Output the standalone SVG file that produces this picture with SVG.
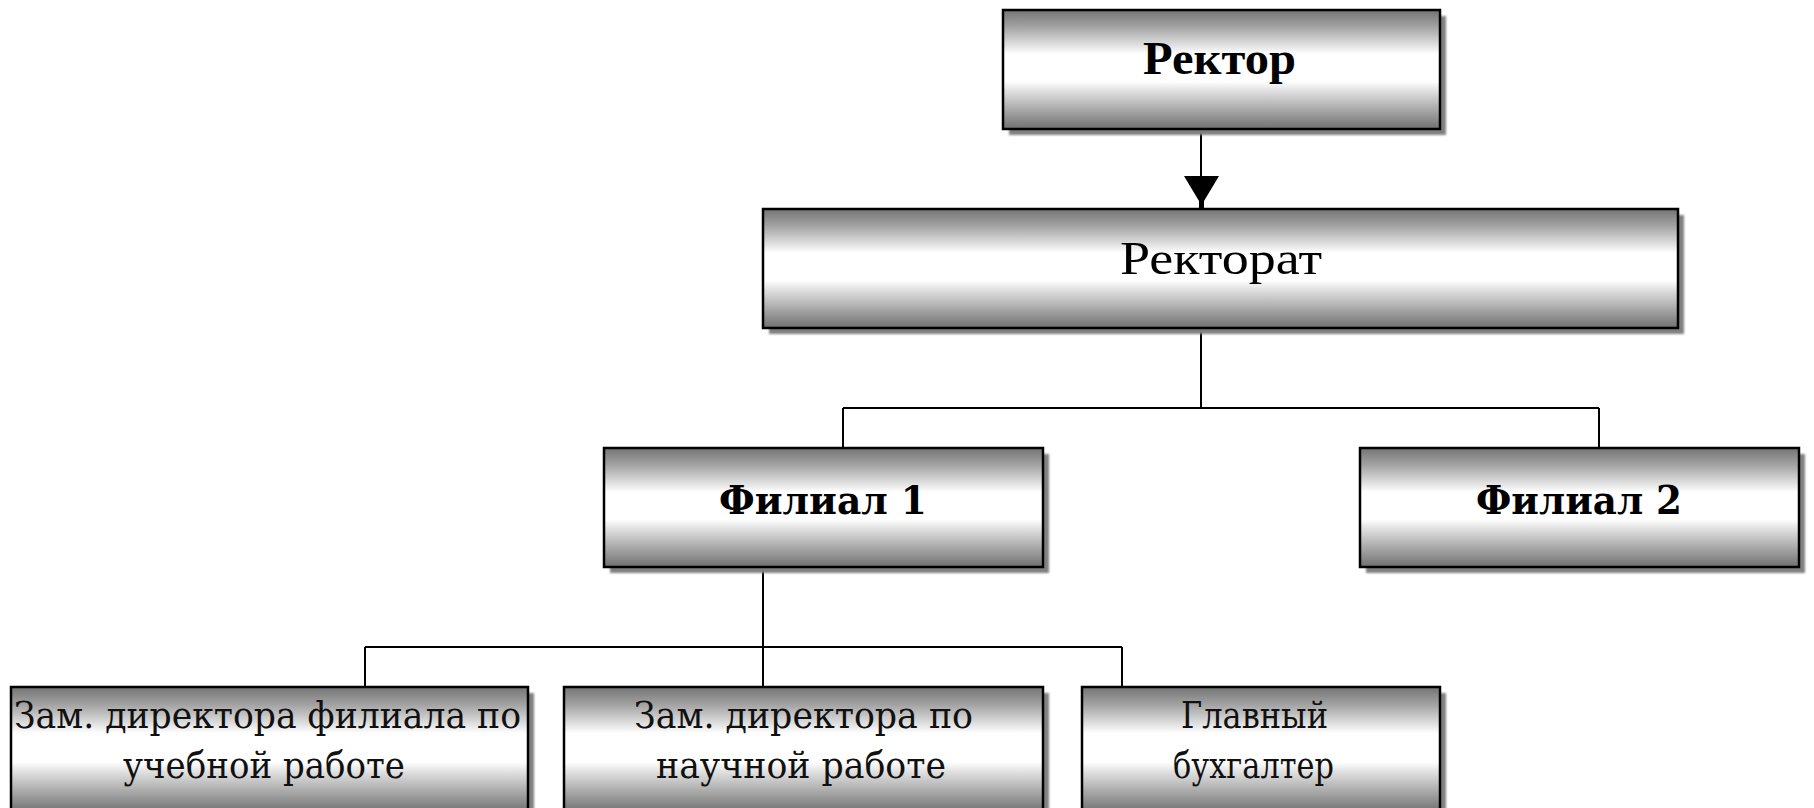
<svg xmlns="http://www.w3.org/2000/svg" width="1814" height="808" viewBox="0 0 1814 808">
  <defs>
    <!-- metallic "cylinder" shading used by every box -->
    <linearGradient id="tube" x1="0" y1="0" x2="0" y2="1">
      <stop offset="0" stop-color="#747474"/>
      <stop offset="0.14" stop-color="#a2a2a2"/>
      <stop offset="0.3" stop-color="#e2e2e2"/>
      <stop offset="0.37" stop-color="#ffffff"/>
      <stop offset="0.6" stop-color="#ffffff"/>
      <stop offset="0.68" stop-color="#e0e0e0"/>
      <stop offset="0.85" stop-color="#a4a4a4"/>
      <stop offset="1" stop-color="#707070"/>
    </linearGradient>
    <filter id="soft" x="-5%" y="-5%" width="110%" height="110%">
      <feGaussianBlur stdDeviation="1"/>
    </filter>
  </defs>
  <style>
    .shadow { fill: #808080; filter: url(#soft); }
    .box { fill: url(#tube); stroke: #000; stroke-width: 2.5; }
    .link { fill: none; stroke: #000; stroke-width: 2; }
    .head { font-family: "Liberation Serif", "Times New Roman", serif; fill: #000; }
    .unit { font-family: "DejaVu Serif", "Liberation Serif", serif; font-weight: bold; font-size: 40px; fill: #000; }
    .post { font-family: "DejaVu Serif", "Liberation Serif", serif; font-size: 37px; fill: #111; }
  </style>

  <rect width="1814" height="808" fill="#fff"/>

  <!-- connectors -->
  <g id="connectors">
    <path class="link" d="M1201,130 V201"/>
    <polygon points="1184,176 1219,176 1204,201 1204,209 1199,209 1199,201" fill="#000"/>
    <path class="link" d="M1201,328 V408 M843,408 H1599 M843,408 V448 M1599,408 V448"/>
    <path class="link" d="M763,567 V647 M365,647 H1122 M365,647 V687 M763,647 V687 M1122,647 V687"/>
  </g>

  <g id="rector">
    <rect class="shadow" x="1009" y="16" width="437" height="119"/>
    <rect class="box" x="1003" y="10" width="437" height="119"/>
    <text class="head" x="1143" y="74" font-size="46" font-weight="bold" textLength="153" lengthAdjust="spacingAndGlyphs">Ректор</text>
  </g>

  <g id="rectorate">
    <rect class="shadow" x="769" y="215" width="915" height="119"/>
    <rect class="box" x="763" y="209" width="915" height="119"/>
    <text class="head" x="1120" y="274" font-size="47" textLength="202" lengthAdjust="spacingAndGlyphs">Ректорат</text>
  </g>

  <g id="branch1">
    <rect class="shadow" x="610" y="454" width="439" height="119"/>
    <rect class="box" x="604" y="448" width="439" height="119"/>
    <text class="unit" x="719" y="514" textLength="208" lengthAdjust="spacingAndGlyphs">Филиал 1</text>
  </g>

  <g id="branch2">
    <rect class="shadow" x="1366" y="454" width="439" height="119"/>
    <rect class="box" x="1360" y="448" width="439" height="119"/>
    <text class="unit" x="1476" y="514" textLength="206" lengthAdjust="spacingAndGlyphs">Филиал 2</text>
  </g>

  <g id="deputy-teaching">
    <rect class="shadow" x="17" y="693" width="517" height="125"/>
    <rect class="box" x="11" y="687" width="517" height="125"/>
    <text class="post" x="14" y="728" textLength="507" lengthAdjust="spacingAndGlyphs">Зам. директора филиала по</text>
    <text class="post" x="123" y="778" textLength="282" lengthAdjust="spacingAndGlyphs">учебной работе</text>
  </g>

  <g id="deputy-research">
    <rect class="shadow" x="570" y="693" width="479" height="125"/>
    <rect class="box" x="564" y="687" width="479" height="125"/>
    <text class="post" x="634" y="728" textLength="339" lengthAdjust="spacingAndGlyphs">Зам. директора по</text>
    <text class="post" x="656" y="778" textLength="290" lengthAdjust="spacingAndGlyphs">научной работе</text>
  </g>

  <g id="chief-accountant">
    <rect class="shadow" x="1088" y="693" width="358" height="125"/>
    <rect class="box" x="1082" y="687" width="358" height="125"/>
    <text class="post" x="1181" y="728" textLength="147" lengthAdjust="spacingAndGlyphs">Главный</text>
    <text class="post" x="1173" y="778" textLength="161" lengthAdjust="spacingAndGlyphs">бухгалтер</text>
  </g>
</svg>
